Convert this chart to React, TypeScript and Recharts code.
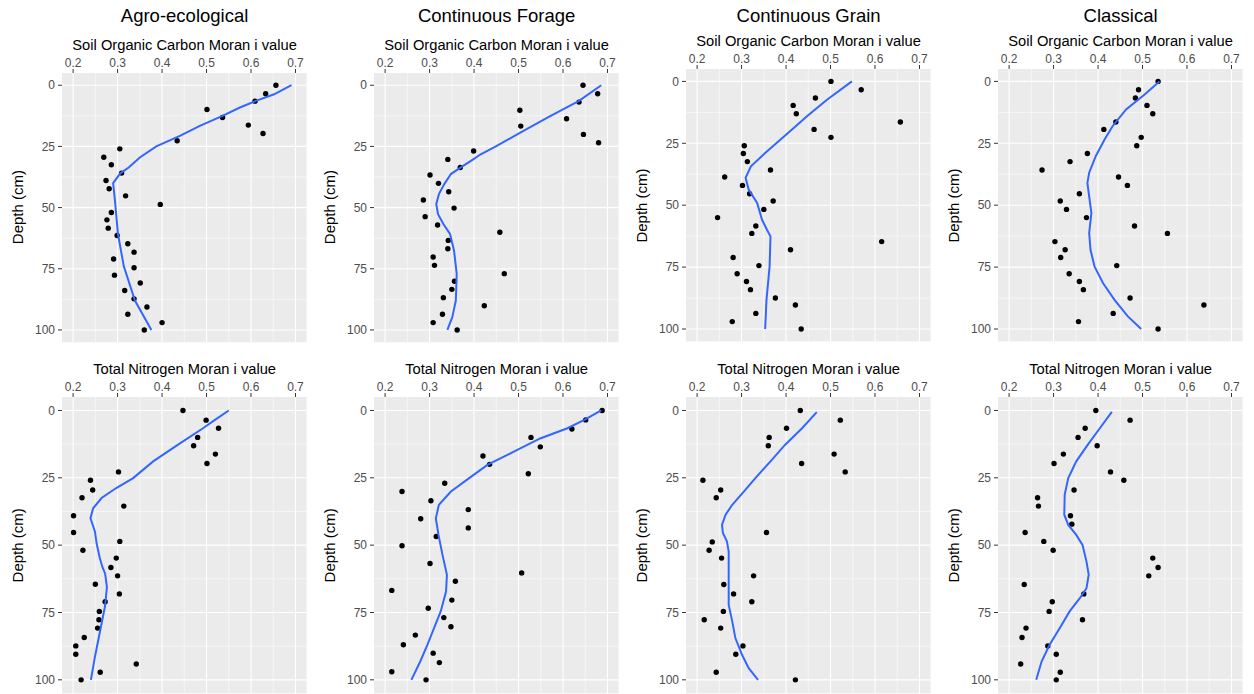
import React from 'react';
import { CartesianGrid, Scatter, ScatterChart, XAxis, YAxis } from 'recharts';

const systems = ['Agro-ecological', 'Continuous Forage', 'Continuous Grain', 'Classical'];
const axisTitles = ['Soil Organic Carbon Moran i value', 'Total Nitrogen Moran i value'];
const xTicks = [0.2, 0.3, 0.4, 0.5, 0.6, 0.7];
const xMinor = [0.25, 0.35, 0.45, 0.55, 0.65];
const depthTicks = [0, 25, 50, 75, 100];
const depthMinor = [12.5, 37.5, 62.5, 87.5];

// observed values, [depth (cm), Moran i]
const agroSoc = [
  [0, 0.656], [3.5, 0.633], [6.5, 0.609], [9.9, 0.501], [13.2, 0.536], [16.3, 0.594], [19.7, 0.627], [22.7, 0.434],
  [26, 0.305], [29.4, 0.269], [32.5, 0.286], [35.9, 0.309], [38.9, 0.274], [42.3, 0.281], [45.2, 0.318], [48.7, 0.396],
  [52, 0.286], [55, 0.276], [58.4, 0.279], [61.4, 0.299], [64.8, 0.323], [68.2, 0.337], [71, 0.291], [74.6, 0.337],
  [77.6, 0.293], [80.8, 0.351], [83.9, 0.316], [87.3, 0.337], [90.6, 0.366], [93.6, 0.323], [97, 0.4], [100, 0.36],
];
const forageSoc = [
  [0, 0.645], [3.5, 0.678], [6.9, 0.636], [10.2, 0.503], [13.7, 0.608], [16.7, 0.505], [20.1, 0.646], [23.5, 0.68],
  [26.9, 0.399], [30.3, 0.341], [33.6, 0.369], [36.7, 0.301], [40.1, 0.32], [43.5, 0.343], [46.9, 0.286], [50.2, 0.355],
  [53.7, 0.29], [57.1, 0.318], [60.1, 0.458], [63.4, 0.342], [66.8, 0.341], [70.2, 0.308], [73.6, 0.311], [77, 0.468],
  [80.1, 0.356], [83.4, 0.35], [86.8, 0.331], [90.1, 0.423], [93.6, 0.329], [97, 0.308], [100, 0.362],
];
const grainSoc = [
  [0, 0.501], [3.4, 0.569], [6.7, 0.466], [9.7, 0.416], [13.1, 0.423], [16.4, 0.657], [19.4, 0.463], [22.6, 0.501],
  [26, 0.306], [29.1, 0.304], [32.4, 0.313], [35.8, 0.365], [38.6, 0.262], [42, 0.302], [45.4, 0.318], [48.3, 0.371],
  [51.7, 0.35], [55, 0.246], [58.4, 0.332], [61.4, 0.323], [64.7, 0.615], [68, 0.41], [71.1, 0.281], [74.4, 0.339],
  [77.7, 0.29], [80.8, 0.311], [84.1, 0.32], [87.5, 0.376], [90.3, 0.421], [93.7, 0.332], [97, 0.279], [100, 0.434],
];
const classicSoc = [
  [0, 0.535], [3.4, 0.491], [6.7, 0.484], [9.7, 0.51], [13.1, 0.523], [16.4, 0.44], [19.4, 0.413], [22.6, 0.497],
  [26, 0.487], [29.1, 0.376], [32.4, 0.337], [35.8, 0.274], [38.6, 0.446], [42, 0.466], [45.4, 0.358], [48.3, 0.315],
  [51.7, 0.329], [55, 0.374], [58.4, 0.482], [61.4, 0.556], [64.7, 0.303], [68, 0.326], [71.1, 0.316], [74.4, 0.442],
  [77.7, 0.335], [80.8, 0.358], [84.1, 0.367], [87.5, 0.472], [90.3, 0.638], [93.7, 0.434], [97, 0.356], [100, 0.535],
];
const agroTn = [
  [0, 0.447], [3.6, 0.499], [6.6, 0.527], [10, 0.48], [13.1, 0.471], [16.2, 0.52], [19.7, 0.501], [22.8, 0.302],
  [25.9, 0.239], [29.5, 0.244], [32.4, 0.22], [35.5, 0.314], [39.1, 0.201], [45.3, 0.201], [48.6, 0.305], [51.9, 0.222],
  [54.8, 0.297], [58.3, 0.285], [61.4, 0.3], [64.5, 0.25], [68.1, 0.304], [71, 0.272], [74.6, 0.259], [77.7, 0.258],
  [80.8, 0.255], [84.3, 0.225], [87.4, 0.206], [90.5, 0.206], [94.1, 0.342], [97.2, 0.261], [100, 0.218],
];
const forageTn = [
  [0, 0.688], [3.5, 0.651], [6.9, 0.62], [10, 0.528], [13.5, 0.549], [16.9, 0.42], [20, 0.435], [23.5, 0.522],
  [27, 0.334], [30.1, 0.238], [33.5, 0.303], [36.8, 0.387], [40.2, 0.28], [43.6, 0.387], [46.8, 0.315], [50.2, 0.238],
  [56.8, 0.301], [60.3, 0.507], [63.4, 0.358], [66.8, 0.215], [70.4, 0.35], [73.4, 0.297], [76.9, 0.332], [80.3, 0.348],
  [83.4, 0.268], [87, 0.241], [90.1, 0.308], [93.6, 0.322], [97, 0.215], [100, 0.292],
];
const grainTn = [
  [0, 0.432], [3.6, 0.522], [6.6, 0.401], [10, 0.362], [13.1, 0.36], [16.2, 0.508], [19.7, 0.435], [22.8, 0.533],
  [25.9, 0.213], [29.5, 0.253], [32.4, 0.243], [45.3, 0.356], [48.8, 0.234], [51.9, 0.227], [54.8, 0.255], [61.4, 0.327],
  [64.6, 0.26], [68.1, 0.282], [71, 0.323], [74.6, 0.259], [77.7, 0.216], [80.8, 0.253], [87.4, 0.303], [90.5, 0.287],
  [97.2, 0.243], [100, 0.421],
];
const classicTn = [
  [0, 0.395], [3.6, 0.472], [6.6, 0.371], [10, 0.355], [13.1, 0.398], [16.2, 0.322], [19.7, 0.301], [22.8, 0.428],
  [25.9, 0.458], [29.5, 0.346], [32.4, 0.264], [35.5, 0.266], [39.1, 0.338], [42.2, 0.341], [45.3, 0.236], [48.6, 0.278],
  [51.9, 0.299], [54.8, 0.523], [58.3, 0.535], [61.4, 0.514], [64.6, 0.234], [68.1, 0.368], [71, 0.297], [74.6, 0.29],
  [77.7, 0.365], [80.8, 0.238], [84.3, 0.229], [87.4, 0.287], [90.5, 0.306], [94.1, 0.226], [97.2, 0.315], [100, 0.306],
];

// loess fits, [depth, Moran i]
const agroSocFit = [
  [0, 0.691], [3.7, 0.652], [6.4, 0.611], [9.1, 0.575], [12.5, 0.536], [16.6, 0.485], [20.7, 0.44], [25, 0.387],
  [29.5, 0.35], [33.6, 0.325], [36, 0.306], [40, 0.29], [47, 0.294], [61, 0.301], [74, 0.314], [88, 0.339], [100, 0.376],
];
const forageSocFit = [
  [0, 0.686], [6.4, 0.636], [13.2, 0.565], [20, 0.498], [25, 0.449], [28.2, 0.415], [30.9, 0.393], [33.6, 0.37],
  [36.3, 0.348], [40.4, 0.333], [44.5, 0.321], [48.6, 0.315], [52.7, 0.319], [56.7, 0.331], [60.8, 0.346], [67.6, 0.355],
  [77.1, 0.361], [88, 0.359], [94.8, 0.351], [100, 0.34],
];
const grainSocFit = [
  [0, 0.548], [7.4, 0.492], [14.1, 0.447], [18.2, 0.421], [23.6, 0.387], [28.9, 0.353], [34.3, 0.321], [39, 0.309],
  [43.7, 0.316], [49.1, 0.335], [55.9, 0.346], [59.9, 0.357], [62.6, 0.365], [74.7, 0.363], [88.2, 0.356], [100, 0.353],
];
const classicSocFit = [
  [0, 0.538], [5.4, 0.504], [11.3, 0.463], [18, 0.433], [23.4, 0.415], [30.1, 0.395], [36.9, 0.38], [41, 0.376],
  [47.8, 0.381], [53.2, 0.385], [61.2, 0.38], [68, 0.383], [74.7, 0.392], [81.4, 0.411], [88.2, 0.437], [94.9, 0.467], [100, 0.497],
];
const agroTnFit = [
  [0, 0.55], [3.5, 0.519], [6.6, 0.492], [12.7, 0.436], [18.9, 0.38], [25.1, 0.335], [28.8, 0.297], [32.5, 0.264],
  [36.3, 0.245], [40, 0.239], [44.9, 0.249], [49.5, 0.253], [54.8, 0.26], [58.2, 0.266], [60.6, 0.272], [65.5, 0.276],
  [72.4, 0.272], [81.6, 0.261], [91.5, 0.249], [100, 0.24],
];
const forageTnFit = [
  [0, 0.686], [3.5, 0.648], [6.6, 0.61], [10.3, 0.55], [14, 0.505], [16.5, 0.475], [20.2, 0.43], [25.1, 0.389],
  [30.1, 0.348], [35, 0.321], [40, 0.314], [46.2, 0.32], [53.6, 0.329], [61, 0.339], [67.2, 0.337], [74.6, 0.325],
  [80.8, 0.31], [87, 0.295], [93.2, 0.279], [100, 0.259],
];
const grainTnFit = [
  [0.6, 0.469], [6.6, 0.436], [12.7, 0.398], [18.9, 0.365], [25.1, 0.331], [30.1, 0.305], [35, 0.279], [38.7, 0.264],
  [42.5, 0.256], [45.5, 0.258], [48.6, 0.267], [52.4, 0.271], [62.3, 0.271], [72.2, 0.271], [78.3, 0.279], [84.5, 0.286],
  [90.7, 0.301], [95.7, 0.316], [100, 0.337],
];
const classicTnFit = [
  [0.5, 0.431], [6.6, 0.404], [12.7, 0.377], [18.9, 0.351], [22, 0.342], [25.1, 0.333], [31.2, 0.325], [38.7, 0.324],
  [42.5, 0.333], [46.2, 0.351], [49.9, 0.365], [56.1, 0.374], [61, 0.379], [66, 0.374], [69.7, 0.359], [74.6, 0.336],
  [80.8, 0.314], [87, 0.291], [93.2, 0.273], [100, 0.261],
];

const socPoints = [agroSoc, forageSoc, grainSoc, classicSoc];
const socFits = [agroSocFit, forageSocFit, grainSocFit, classicSocFit];
const tnPoints = [agroTn, forageTn, grainTn, classicTn];
const tnFits = [agroTnFit, forageTnFit, grainTnFit, classicTnFit];

const FONT = '"Liberation Sans", Arial, Helvetica, sans-serif';
const COL_LEFT = [62.3, 374.3, 686.3, 998.3];
const PLOT_W = 244.6;
const AXIS_W = 62;
const AXIS_H = 30;
const ROW_TOP = [[72.5, 72.5, 69.3, 69.3], [397.2, 397.2, 397.2, 397.2]];
const ROW_BOTTOM = [341.7, 693.5];

const toRows = (arr: number[][]) => arr.map(([depth, moran]) => ({ depth, moran }));

const Dot = (p: any) => <circle cx={p.cx} cy={p.cy} r={2.7} fill="#000000" />;
const NoDot = () => <g />;

function Panel({ pts, fit, left, top, height }: any) {
  const tickStyle = { fill: '#4D4D4D', fontSize: 12, fontFamily: FONT };
  return (
    <div style={{ position: 'absolute', left: left - AXIS_W, top: top - AXIS_H }}>
      <ScatterChart
        width={AXIS_W + PLOT_W + 4}
        height={AXIS_H + height + 2}
        margin={{ top: 0, right: 4, bottom: 2, left: 0 }}
      >
        <CartesianGrid fill="#EBEBEB" stroke="#FFFFFF" strokeWidth={0.55}
          verticalValues={xMinor} horizontalValues={depthMinor} />
        <CartesianGrid stroke="#FFFFFF" strokeWidth={1.1} fill="none"
          verticalValues={xTicks} horizontalValues={depthTicks} />
        <XAxis type="number" dataKey="moran" orientation="top" domain={[0.175, 0.725]} ticks={xTicks}
          interval={0} height={AXIS_H} axisLine={false} tickLine={{ stroke: '#333333' }} tickSize={4}
          tickMargin={2} tick={tickStyle} tickFormatter={(v: number) => v.toFixed(1)} allowDataOverflow />
        <YAxis type="number" dataKey="depth" reversed domain={[-5, 105]} ticks={depthTicks} interval={0}
          width={AXIS_W} axisLine={false} tickLine={{ stroke: '#333333' }} tickSize={4} tickMargin={3}
          tick={tickStyle} allowDataOverflow />
        <Scatter data={toRows(pts)} isAnimationActive={false} shape={Dot} />
        <Scatter data={toRows(fit)} isAnimationActive={false} shape={NoDot}
          line={{ stroke: '#3366FF', strokeWidth: 2 }} lineType="joint" />
      </ScatterChart>
    </div>
  );
}

export default function App() {
  const panels: any[] = [];
  [socPoints, tnPoints].forEach((rowPts, r) => {
    const rowFits = r === 0 ? socFits : tnFits;
    rowPts.forEach((pts, c) => {
      const top = ROW_TOP[r][c];
      panels.push({ r, c, pts, fit: rowFits[c], left: COL_LEFT[c], top, height: ROW_BOTTOM[r] - top });
    });
  });

  return (
    <div style={{ position: 'absolute', left: 0, top: 0, width: 1254, height: 694, background: '#FFFFFF', overflow: 'hidden' }}>
      {panels.map((p) => (
        <Panel key={`${p.r}-${p.c}`} pts={p.pts} fit={p.fit} left={p.left} top={p.top} height={p.height} />
      ))}
      <svg width={1254} height={694} style={{ position: 'absolute', left: 0, top: 0, pointerEvents: 'none' }}>
        {systems.map((s, c) => (
          <text key={s} x={COL_LEFT[c] + PLOT_W / 2} y={21.5} textAnchor="middle" fontSize={18.5}
            fontFamily={FONT} fill="#000000">{s}</text>
        ))}
        {panels.map((p) => (
          <text key={`at-${p.r}-${p.c}`} x={p.left + PLOT_W / 2} y={p.top - 23} textAnchor="middle"
            fontSize={14.7} fontFamily={FONT} fill="#000000">{axisTitles[p.r]}</text>
        ))}
        {panels.map((p) => {
          const cx = p.left - 39.5;
          const cy = p.top + p.height / 2;
          return (
            <text key={`yt-${p.r}-${p.c}`} x={cx} y={cy} textAnchor="middle" fontSize={15}
              fontFamily={FONT} fill="#000000" transform={`rotate(-90 ${cx} ${cy})`}>Depth (cm)</text>
          );
        })}
      </svg>
    </div>
  );
}
